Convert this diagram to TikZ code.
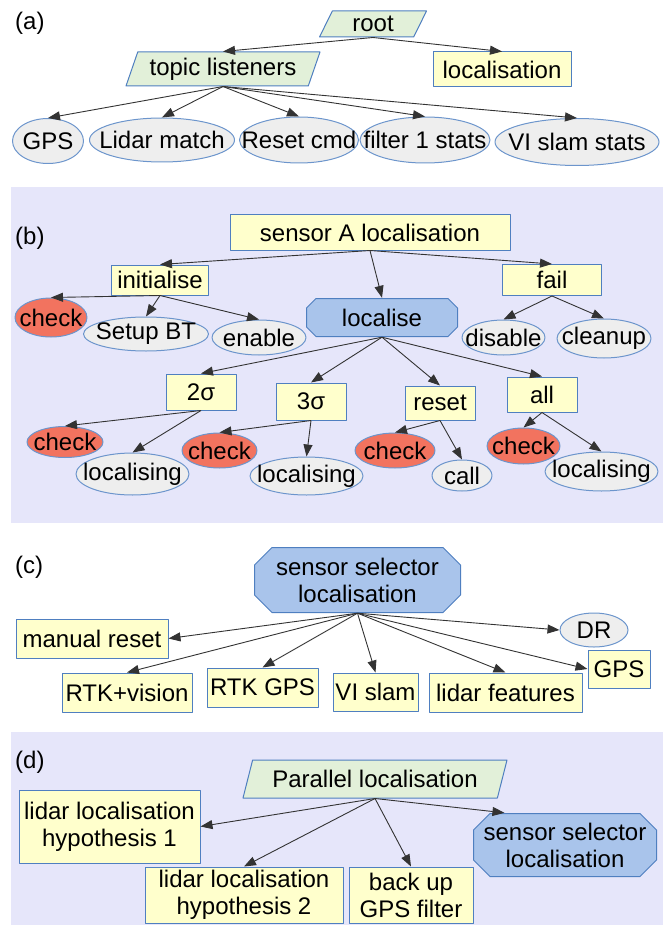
\documentclass[tikz,border=0pt]{standalone}
\usepackage{fontspec}
\setmainfont{Liberation Sans}
\usepackage{tikz}
\usetikzlibrary{arrows.meta,shapes.geometric}

\definecolor{panelfill}{HTML}{E6E6FA}
\definecolor{taskfill}{HTML}{FFFFCC}
\definecolor{topicfill}{HTML}{E2F0D9}
\definecolor{leaffill}{HTML}{EEEEEE}
\definecolor{checkfill}{HTML}{F2735F}
\definecolor{selfill}{HTML}{A9C4EB}
\definecolor{rim}{HTML}{4F7FC0}
\definecolor{rimlight}{HTML}{6C95CC}

\newcommand{\gvfont}{\fontsize{24}{27}\selectfont}

\tikzset{
  dims/.style 2 args={minimum width=#1pt,minimum height=#2pt},
  taskbox/.style={rectangle,draw=rim,fill=taskfill,line width=1pt,inner sep=2pt,align=center},
  topicnode/.style={trapezium,trapezium left angle=66,trapezium right angle=114,
    trapezium stretches body=true,draw=rim,fill=topicfill,line width=1pt,inner sep=2pt},
  % octagon: plain rectangle node, outline drawn as its path picture
  selnode/.style={rectangle,inner sep=2pt,align=center,
    path picture={
      \filldraw[draw=rim,fill=selfill,line width=1pt]
        ([xshift=#1,yshift=-0.5pt]path picture bounding box.north west)
        -- ([xshift=-#1,yshift=-0.5pt]path picture bounding box.north east)
        -- ([xshift=-0.5pt,yshift=-#1]path picture bounding box.north east)
        -- ([xshift=-0.5pt,yshift=#1]path picture bounding box.south east)
        -- ([xshift=-#1,yshift=0.5pt]path picture bounding box.south east)
        -- ([xshift=#1,yshift=0.5pt]path picture bounding box.south west)
        -- ([xshift=0.5pt,yshift=#1]path picture bounding box.south west)
        -- ([xshift=0.5pt,yshift=-#1]path picture bounding box.north west)
        -- cycle;}},
  selnode/.default=10pt,
  leafnode/.style={ellipse,draw=rimlight,fill=leaffill,line width=1pt,inner sep=0pt,
    execute at begin node={\hbox to 0pt\bgroup\hss},execute at end node={\hss\egroup}},
  checknode/.style={leafnode,fill=checkfill},
  link/.style={->,draw=black!80,line width=0.9pt},
  panellabel/.style={anchor=west,inner sep=0pt}
}

\begin{document}
\begin{tikzpicture}[x=1pt,y=-1pt,font=\gvfont,>={Triangle[length=12pt,width=9pt]},line join=round]
  \useasboundingbox (0,0) rectangle (669,925);
  % panel backgrounds
  \fill[panelfill] (11,187) rectangle (663,523);
  \fill[panelfill] (11,732) rectangle (663,925);

  % (a)
  \node[panellabel] (laba) at (15,23) {(a)};
  \node[topicnode,trapezium left angle=57,trapezium right angle=123,dims={107}{26}] (root) at (373,24) {root};
  \node[topicnode,dims={194}{34}] (topics) at (223,69) {topic listeners};
  \node[taskbox,dims={138}{35}] (loc) at (502,69.5) {localisation};
  \node[leafnode,dims={71}{45}] (gps) at (48,141) {GPS};
  \node[leafnode,dims={145}{44}] (lidar) at (162,140) {Lidar match};
  \node[leafnode,dims={119}{46}] (resetcmd) at (299,140) {Reset cmd};
  \node[leafnode,dims={130}{46}] (filter) at (425,140) {filter 1 stats};
  \node[leafnode,dims={164}{47}] (vislam) at (577,142) {VI slam stats};
  \draw[link] (root.south) -- (topics.north);
  \draw[link] (root.south) -- (loc.north);
  \draw[link] (topics.south) -- (gps.north);
  \draw[link] (topics.south) -- (lidar.north);
  \draw[link] (topics.south) -- (resetcmd.north);
  \draw[link] (topics.south) -- (filter.north);
  \draw[link] (topics.south) -- (vislam.north);

  % (b)
  \node[panellabel] (labb) at (15,238) {(b)};
  \node[taskbox,dims={280}{35}] (sal) at (370,232.5) {sensor A localisation};
  \node[taskbox,dims={97}{30}] (init) at (160,280) {initialise};
  \node[taskbox,dims={99}{31}] (fail) at (552,280) {fail};
  \node[selnode,dims={152}{39}] (localise) at (382,317.5) {localise};
  \node[checknode,dims={72}{39}] (chkinit) at (51,317.5) {check};
  \node[leafnode,dims={125}{34}] (setupbt) at (146,334) {Setup BT};
  \node[leafnode,dims={94}{35}] (enable) at (259,337.5) {enable};
  \node[leafnode,dims={83}{35}] (disable) at (503.5,337.5) {disable};
  \node[leafnode,dims={94}{39}] (cleanup) at (604,338.5) {cleanup};
  \node[taskbox,dims={70}{36}] (two) at (201,392) {2σ};
  \node[taskbox,dims={70}{37}] (three) at (311,401.5) {3σ};
  \node[taskbox,dims={70}{34}] (reset) at (440,403) {reset};
  \node[taskbox,dims={70}{35}] (all) at (542,394.5) {all};
  \node[checknode,dims={76}{31}] (chktwo) at (65,442) {check};
  \node[leafnode,dims={113}{42}] (loctwo) at (132.5,474) {localising};
  \node[checknode,dims={75}{35}] (chkthree) at (219.5,450.5) {check};
  \node[leafnode,dims={113}{38}] (locthree) at (306.5,476) {localising};
  \node[checknode,dims={80}{35}] (chkreset) at (395,450.5) {check};
  \node[leafnode,dims={60}{31}] (call) at (462,475.5) {call};
  \node[checknode,dims={73}{36}] (chkall) at (523.5,446) {check};
  \node[leafnode,dims={113}{39}] (locall) at (601.5,471.5) {localising};
  \draw[link] (sal.south) -- (init.north);
  \draw[link] (sal.south) -- (localise.north);
  \draw[link] (sal.south) -- (fail.north);
  \draw[link] (init.south) -- (chkinit.north);
  \draw[link] (init.south) -- (setupbt.north);
  \draw[link] (init.south) -- (enable.north);
  \draw[link] (fail.south) -- (disable.north);
  \draw[link] (fail.south) -- (cleanup.north);
  \draw[link] (localise.south) -- (two.north);
  \draw[link] (localise.south) -- (three.north);
  \draw[link] (localise.south) -- (reset.north);
  \draw[link] (localise.south) -- (all.north);
  \draw[link] (two.south) -- (chktwo.north);
  \draw[link] (two.south) -- (loctwo.north);
  \draw[link] (three.south) -- (chkthree.north);
  \draw[link] (three.south) -- (locthree.north);
  \draw[link] (reset.south) -- (chkreset.north);
  \draw[link] (reset.south) -- (call.north);
  \draw[link] (all.south) -- (chkall.north);
  \draw[link] (all.south) -- (locall.north);

  % (c)
  \node[panellabel] (labc) at (15,567) {(c)};
  \node[selnode=18pt,dims={207}{66}] (ssl) at (357.5,580) {sensor selector\\localisation};
  \node[taskbox,dims={152}{39}] (manual) at (92,638.5) {manual reset};
  \node[taskbox,dims={130}{39}] (rtkvis) at (127,692.5) {RTK+vision};
  \node[taskbox,dims={111}{39}] (rtkgps) at (262.5,687.5) {RTK GPS};
  \node[taskbox,dims={85}{38}] (vislamc) at (375.5,692) {VI slam};
  \node[taskbox,dims={153}{39}] (lidarf) at (505.5,692.5) {lidar features};
  \node[leafnode,dims={68}{34}] (dr) at (594,630) {DR};
  \node[taskbox,dims={62}{38}] (gpsc) at (619,669) {GPS};
  \draw[link] (ssl.south) -- (manual.east);
  \draw[link] (ssl.south) -- (rtkvis.north);
  \draw[link] (ssl.south) -- (rtkgps.north);
  \draw[link] (ssl.south) -- (vislamc.north);
  \draw[link] (ssl.south) -- (lidarf.north);
  \draw[link] (ssl.south) -- (dr.west);
  \draw[link] (ssl.south) -- (gpsc.west);

  % (d)
  \node[panellabel] (labd) at (15,762) {(d)};
  \node[topicnode,dims={264}{38}] (par) at (375,779) {Parallel localisation};
  \node[taskbox,dims={181}{73}] (hypone) at (109.5,826.5) {lidar localisation\\hypothesis 1};
  \node[taskbox,dims={198}{56}] (hyptwo) at (244,895) {lidar localisation\\hypothesis 2};
  \node[taskbox,dims={124}{56}] (backup) at (411,895) {back up\\GPS filter};
  \node[selnode=17pt,dims={184}{64}] (ssd) at (565,845) {sensor selector\\localisation};
  \draw[link] (par.south) -- (hypone.east);
  \draw[link] (par.south) -- (hyptwo.north);
  \draw[link] (par.south) -- (backup.north);
  \draw[link] (par.south) -- (ssd.152);
\end{tikzpicture}
\end{document}
